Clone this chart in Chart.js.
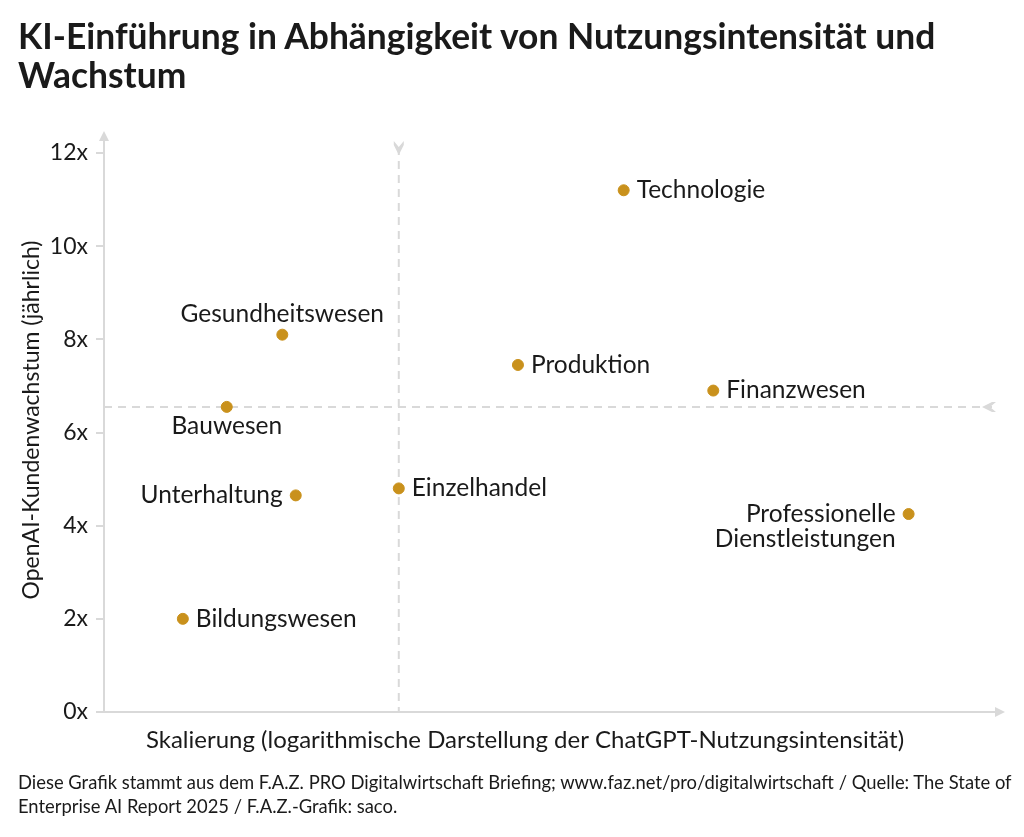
<!DOCTYPE html>
<html>
<head>
<meta charset="utf-8">
<script src="https://cdn.jsdelivr.net/npm/chart.js@4"></script>
<style>
  html, body { margin: 0; padding: 0; background: #fff; }
  body { width: 1024px; height: 837px; position: relative; overflow: hidden; font-family: Lato, sans-serif; color: #1a1a1a; }
  #titel { position: absolute; left: 18px; top: 16px; font-size: 35.4px; font-weight: 700; line-height: 39px; margin: 0; white-space: nowrap; }
  #quelle { position: absolute; left: 18px; top: 770px; font-size: 18.4px; line-height: 24px; white-space: nowrap; }
  #wrap { position: absolute; left: 0; top: 0; width: 1024px; height: 837px; }
</style>
</head>
<body>
<div id="wrap"><canvas id="chart"></canvas></div>
<h1 id="titel">KI-Einführung in Abhängigkeit von Nutzungsintensität und<br>Wachstum</h1>
<div id="quelle">Diese Grafik stammt aus dem F.A.Z. PRO Digitalwirtschaft Briefing; www.faz.net/pro/digitalwirtschaft / Quelle: The State of<br>Enterprise AI Report 2025 / F.A.Z.-Grafik: saco.</div>
<script>
// Branchen und Werte
var branchen = ["Technologie", "Gesundheitswesen", "Produktion", "Finanzwesen", "Bauwesen",
                "Einzelhandel", "Unterhaltung", "Professionelle Dienstleistungen", "Bildungswesen"];
// x: Skalierung (ohne Einheit, log. Darstellung), y: Kundenwachstum
var nutzung  = [58.0, 19.9, 46.2, 68.0, 13.7, 32.9, 21.4, 89.8, 8.8];
var wachstum = [11.2, 8.1, 7.45, 6.9, 6.55, 4.8, 4.65, 4.25, 2.0];
var yTicks = [0, 2, 4, 6, 8, 10, 12];
var mitteX = 32.9;
var mitteY = 6.55;

// wo steht die Beschriftung: r = rechts, l = links, o = oben, u = unten
var labelSeite = ["r", "o", "r", "r", "u", "r", "l", "l", "r"];
var labelText = branchen.map(function (b) {
  return b === "Professionelle Dienstleistungen" ? ["Professionelle", "Dienstleistungen"] : [b];
});

var grau = "#d9d9d9";
var gold = "#c9911c";
var schrift = "Lato, sans-serif";

var deko = {
  id: "deko",
  beforeDatasetsDraw: function (chart) {
    var c = chart.ctx, a = chart.chartArea;
    var xs = chart.scales.x, ys = chart.scales.y;
    c.save();
    // Achsen mit Pfeil
    c.strokeStyle = grau; c.fillStyle = grau; c.lineWidth = 2;
    c.beginPath(); c.moveTo(a.left, a.bottom); c.lineTo(a.left, a.top - 16); c.stroke();
    c.beginPath(); c.moveTo(a.left, a.top - 22); c.lineTo(a.left - 5, a.top - 12); c.lineTo(a.left + 5, a.top - 12); c.closePath(); c.fill();
    c.beginPath(); c.moveTo(a.left - 8, a.bottom); c.lineTo(a.right, a.bottom); c.stroke();
    c.beginPath(); c.moveTo(a.right + 5, a.bottom); c.lineTo(a.right - 5, a.bottom - 5); c.lineTo(a.right - 5, a.bottom + 5); c.closePath(); c.fill();
    // gestrichelte Mittellinien
    var px = xs.getPixelForValue(mitteX), py = ys.getPixelForValue(mitteY);
    c.setLineDash([8, 6]);
    c.beginPath(); c.moveTo(px, a.top - 6); c.lineTo(px, a.bottom); c.stroke();
    c.beginPath(); c.moveTo(a.left, py); c.lineTo(a.right - 8, py); c.stroke();
    c.setLineDash([]);
    // Pfeilspitzen (Chevron)
    c.beginPath(); c.moveTo(px - 5, a.top - 12); c.lineTo(px, a.top - 6); c.lineTo(px + 5, a.top - 12);
    c.lineTo(px + 5, a.top - 8); c.lineTo(px, a.top + 2); c.lineTo(px - 5, a.top - 8); c.closePath(); c.fill();
    var ex = a.right - 14;
    c.beginPath(); c.moveTo(ex + 10, py - 5); c.lineTo(ex + 4, py); c.lineTo(ex + 10, py + 5);
    c.lineTo(ex + 6, py + 5); c.lineTo(ex - 4, py); c.lineTo(ex + 6, py - 5); c.closePath(); c.fill();
    // Achsentitel
    c.fillStyle = "#1a1a1a";
    c.font = "24px " + schrift;
    c.textAlign = "center"; c.textBaseline = "middle";
    c.fillText("Skalierung (logarithmische Darstellung der ChatGPT-Nutzungsintensität)", 525, 740);
    c.font = "23px " + schrift;
    c.translate(32, 420); c.rotate(-Math.PI / 2);
    c.fillText("OpenAI-Kundenwachstum (jährlich)", 0, 0);
    c.restore();
  },
  afterDatasetsDraw: function (chart) {
    var c = chart.ctx;
    var pts = chart.getDatasetMeta(0).data;
    c.save();
    c.fillStyle = "#1a1a1a";
    c.font = "24.5px " + schrift;
    c.textBaseline = "middle";
    pts.forEach(function (p, i) {
      var s = labelSeite[i], zeilen = labelText[i];
      zeilen.forEach(function (z, k) {
        var y = p.y + k * 25;
        if (s === "r") { c.textAlign = "left"; c.fillText(z, p.x + 13, y); }
        if (s === "l") { c.textAlign = "right"; c.fillText(z, p.x - 13, y); }
        if (s === "o") { c.textAlign = "center"; c.fillText(z, p.x, p.y - 21); }
        if (s === "u") { c.textAlign = "center"; c.fillText(z, p.x, p.y + 19); }
      });
    });
    c.restore();
  }
};

new Chart(document.getElementById("chart"), {
  type: "scatter",
  data: {
    datasets: [{
      data: branchen.map(function (b, i) { return { x: nutzung[i], y: wachstum[i] }; }),
      backgroundColor: gold,
      borderColor: gold,
      pointRadius: 5.5,
      pointHoverRadius: 5.5
    }]
  },
  options: {
    responsive: true,
    maintainAspectRatio: false,
    animation: false,
    layout: { padding: { top: 153, right: 24, left: 0, bottom: 0 } },
    plugins: { legend: { display: false }, tooltip: { enabled: false } },
    scales: {
      x: {
        type: "linear", min: 0, max: 100,
        grid: { display: false },
        border: { display: false },
        ticks: { display: false },
        afterFit: function (s) { s.height = 125; }
      },
      y: {
        type: "linear", min: 0, max: 12,
        afterBuildTicks: function (s) { s.ticks = yTicks.map(function (v) { return { value: v }; }); },
        ticks: {
          color: "#1a1a1a", font: { family: schrift, size: 23 }, padding: 8,
          callback: function (v) { return v + "x"; }
        },
        grid: { drawOnChartArea: false, tickLength: 8, color: grau, lineWidth: 2 },
        border: { display: false },
        afterFit: function (s) { s.width = 104; }
      }
    }
  },
  plugins: [deko]
});
</script>
</body>
</html>
